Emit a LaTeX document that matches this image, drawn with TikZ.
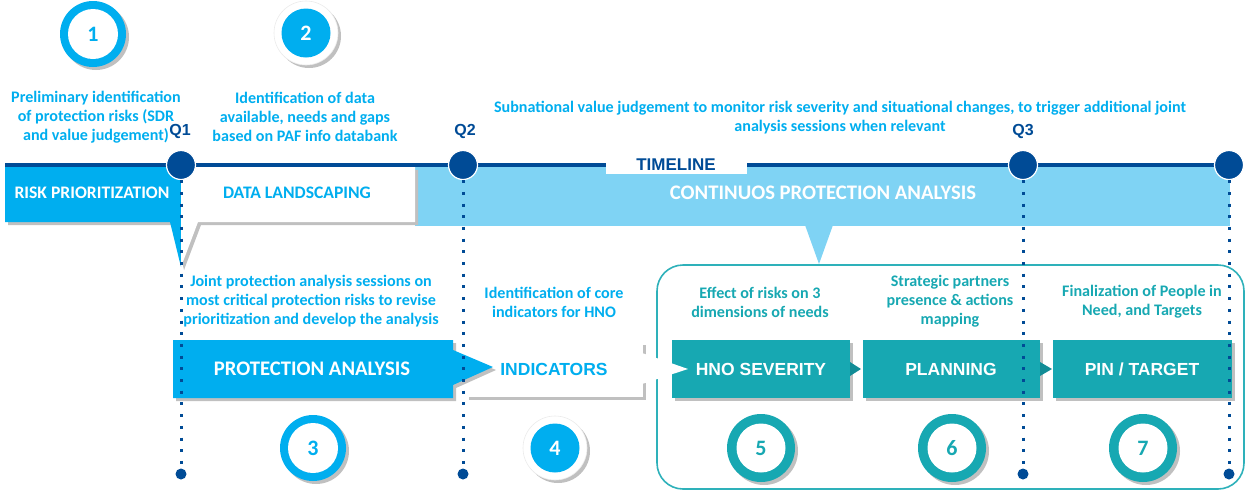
\documentclass[tikz,border=0pt]{standalone}
\usepackage{fontspec}
\setmainfont{Carlito}
\newfontfamily\arialb{Liberation Sans}
\usetikzlibrary{shadows}

\definecolor{brblue}{RGB}{0,174,239}
\definecolor{ltblue}{RGB}{127,211,244}
\definecolor{dkblue}{RGB}{0,75,150}
\definecolor{tealbox}{RGB}{23,168,178}
\definecolor{tealdark}{RGB}{18,140,150}
\definecolor{shade}{RGB}{192,192,192}

\begin{document}
\begin{tikzpicture}[x=1pt,y=-1pt,
  shd/.style={drop shadow={shadow xshift=3pt,shadow yshift=-3pt,fill=shade,opacity=1}},
  body/.style={font=\fontsize{16.1}{19}\selectfont\bfseries,align=center,inner sep=0pt},
  boxlabel/.style={font=\fontsize{17.6}{20}\selectfont\bfseries,inner sep=0pt},
  biglabel/.style={font=\fontsize{20.7}{22}\selectfont\bfseries,inner sep=0pt},
  arlabel/.style={font=\arialb\fontsize{17.5}{20}\selectfont\bfseries,inner sep=0pt},
  qlabel/.style={font=\arialb\fontsize{16}{18}\selectfont\bfseries,text=dkblue,inner sep=0pt},
  qdot/.style={circle,fill=dkblue,draw=white,line width=1.2pt,minimum size=29pt,inner sep=0pt},
  enddot/.style={circle,fill=dkblue,minimum size=11pt,inner sep=0pt},
  dotline/.style={dkblue,line width=3pt,dash pattern=on 3pt off 8.7pt},
  ringouter/.style={circle,minimum size=66pt,inner sep=0pt,shd},
  ringinner/.style={circle,fill=white,minimum size=50pt,inner sep=0pt,
    font=\fontsize{22}{24}\selectfont\bfseries},
  discouter/.style={circle,fill=white,draw=black!8,line width=0.6pt,minimum size=64pt,inner sep=0pt,shd},
  discinner/.style={circle,fill=brblue,minimum size=49pt,inner sep=0pt,text=white,
    font=\fontsize{22}{24}\selectfont\bfseries},
  tealstep/.style={fill=tealbox,shd},
]
\useasboundingbox (0,0) rectangle (1247,491);

% continuous analysis band with its callout
\fill[ltblue] (415,167) rectangle (1230,226);
\fill[ltblue] (805,225) -- (833,225) -- (819,264) -- cycle;
\node[biglabel,text=white] (cpa) at (823,193) {CONTINUOS PROTECTION ANALYSIS};

% risk prioritization callout
\fill[brblue,shd] (5,167) -- (181,167) -- (181,267) -- (170,222) -- (5,222) -- cycle;
\node[boxlabel,text=white] (risk) at (92,193) {RISK PRIORITIZATION};

% data landscaping callout
\fill[white,shd] (181,167) -- (415,167) -- (415,222) -- (198,222) -- (181,267) -- cycle;
\node[boxlabel,text=brblue] (data) at (297,193) {DATA LANDSCAPING};

% timeline
\draw[dkblue,line width=4.5pt] (5,165) -- (1229,165);
\fill[white] (606,160) rectangle (747,174);
\node[font=\arialb\fontsize{17}{19}\selectfont\bfseries,text=dkblue,inner sep=0pt] (tl) at (676,165) {TIMELINE};

% texts above the timeline
\node[body,text=brblue] (t1) at (96,117) {Preliminary identification\\of protection risks (SDR\\and value judgement)};
\node[body,text=brblue] (t2) at (305,117) {Identification of data\\available, needs and gaps\\based on PAF info databank};
\node[body,text=brblue] (t0) at (840,117.5) {Subnational value judgement to monitor risk severity and situational changes, to trigger additional joint\\analysis sessions when relevant};

% frame of the final steps
\draw[tealbox!90!white,line width=1.6pt,rounded corners=26pt] (657,265) rectangle (1244,489);

% lower process steps
\fill[white,shd] (466,342) rectangle (643,397);
\node[arlabel,text=brblue] (ind) at (554,369) {INDICATORS};
\fill[brblue,shd] (173,340) -- (453,340) -- (453,350) -- (493,367) -- (453,385) -- (453,398) -- (173,398) -- cycle;
\node[biglabel,text=white] (pa) at (312,369) {PROTECTION ANALYSIS};

\fill[tealstep] (672,340) rectangle (850,398);
\node[arlabel,text=white] (hno) at (761,369) {HNO SEVERITY};
\fill[tealstep] (863,340) rectangle (1040,398);
\node[arlabel,text=white] (plan) at (951,369) {PLANNING};
\fill[tealstep] (1053,340) rectangle (1232,398);
\node[arlabel,text=white] (pin) at (1142,369) {PIN / TARGET};
\fill[tealdark] (850,362) -- (861,369) -- (850,376) -- cycle;
\fill[tealdark] (1040,362) -- (1052,369) -- (1040,376) -- cycle;
% white tip of the indicators step, cutting into the next step
\fill[white] (642,353) -- (688,369) -- (642,384) -- cycle;

% texts above the lower steps
\node[body,text=brblue] (t3) at (311,301) {Joint protection analysis sessions on\\most critical protection risks to revise\\prioritization and develop the analysis};
\node[body,text=brblue] (t4) at (554,302) {Identification of core\\indicators for HNO};
\node[body,text=tealbox] (t5) at (760,302) {Effect of risks on 3\\dimensions of needs};
\node[body,text=tealbox] (t6) at (950,301) {Strategic partners\\presence \& actions\\mapping};
\node[body,text=tealbox] (t7) at (1142,302) {Finalization of People in\\Need, and Targets};

% numbered markers
\node[ringouter,fill=brblue] (c1o) at (93,34) {};
\node[ringinner,text=brblue] (c1) at (c1o) {1};
\node[discouter] (c2o) at (306,33) {};
\node[discinner] (c2) at (c2o) {2};
\node[ringouter,fill=brblue] (c3o) at (313,448) {};
\node[ringinner,text=brblue] (c3) at (c3o) {3};
\node[discouter] (c4o) at (555,448) {};
\node[discinner] (c4) at (c4o) {4};
\node[ringouter,fill=tealbox,minimum size=68pt] (c5o) at (761,448) {};
\node[ringinner,text=tealbox,minimum size=49pt] (c5) at (c5o) {5};
\node[ringouter,fill=tealbox,minimum size=68pt] (c6o) at (952,448) {};
\node[ringinner,text=tealbox,minimum size=49pt] (c6) at (c6o) {6};
\node[ringouter,fill=tealbox,minimum size=68pt] (c7o) at (1143,448) {};
\node[ringinner,text=tealbox,minimum size=49pt] (c7) at (c7o) {7};

% quarter markers and their dotted guides
\node[qdot] (q1) at (181,165) {};
\node[qdot] (q2) at (463,165) {};
\node[qdot] (q3) at (1023,165) {};
\node[qdot] (q4) at (1229,165) {};
\node[enddot] (e1) at (181,474) {};
\node[enddot] (e2) at (463,474) {};
\node[enddot] (e3) at (1023,474) {};
\node[enddot] (e4) at (1229,474) {};
\draw[dotline] (q1.south) -- (e1.north);
\draw[dotline] (q2.south) -- (e2.north);
\draw[dotline] (q3.south) -- (e3.north);
\draw[dotline] (q4.south) -- (e4.north);
\node[qlabel] (ql1) at (180,131) {Q1};
\node[qlabel] (ql2) at (465,131) {Q2};
\node[qlabel] (ql3) at (1023,131) {Q3};
\end{tikzpicture}
\end{document}
